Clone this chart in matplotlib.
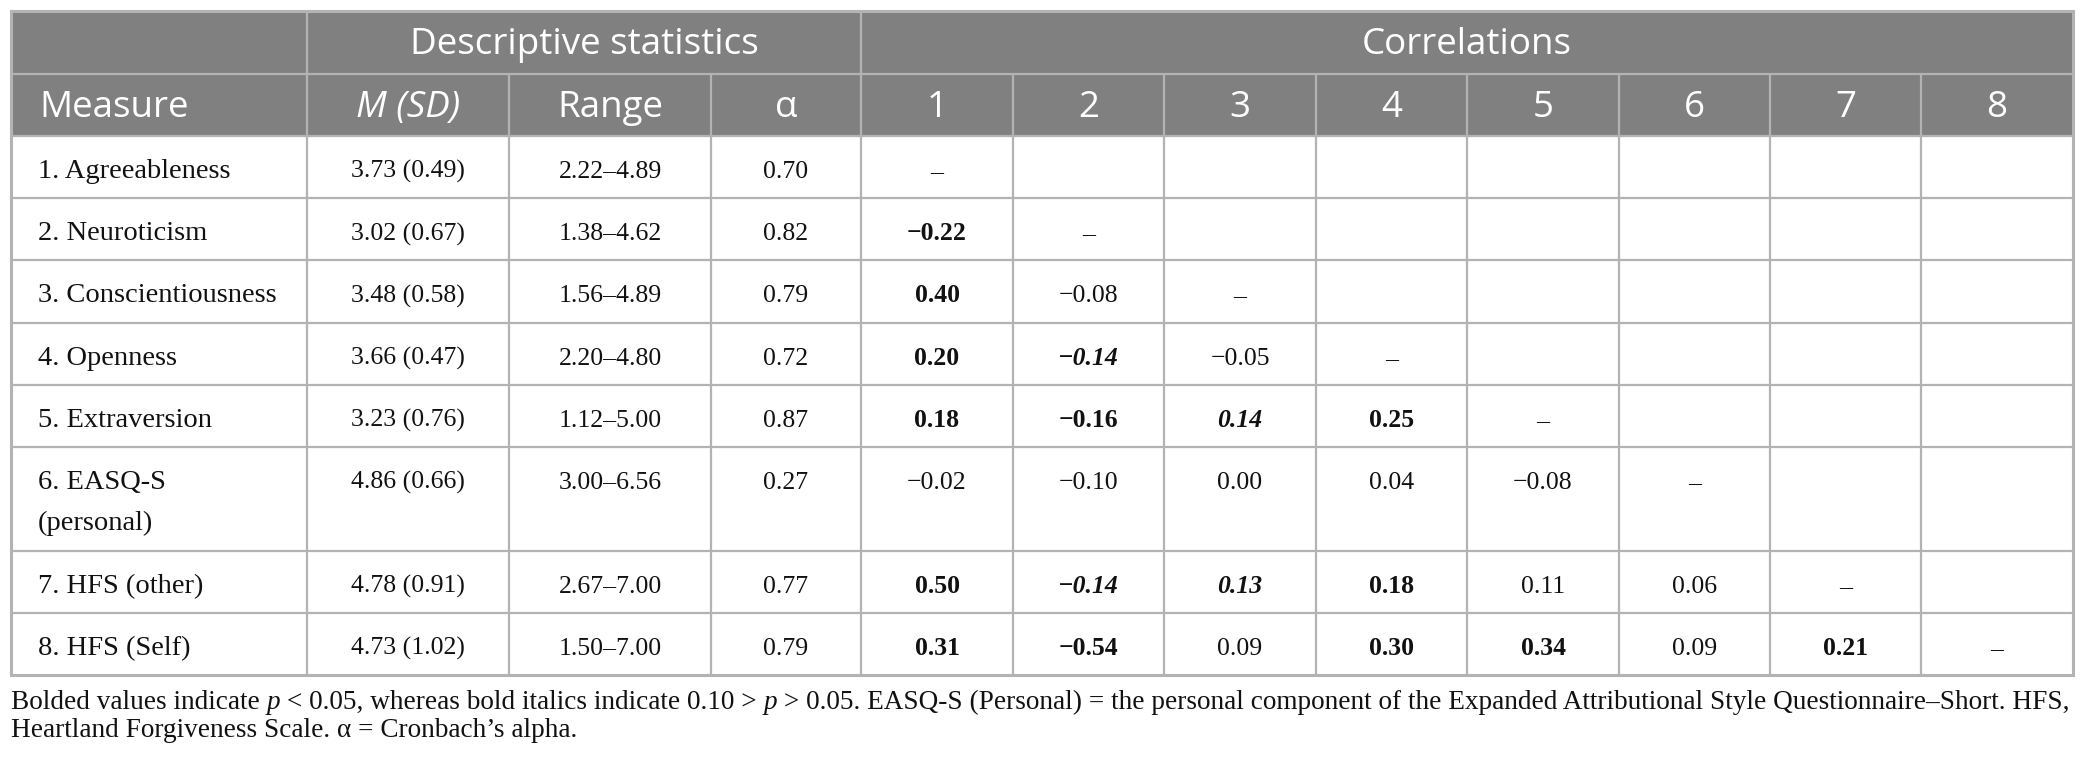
import matplotlib
matplotlib.use("Agg")
import matplotlib.pyplot as plt
from matplotlib.patches import Rectangle

# ---------------- data ----------------
measures = ["1. Agreeableness", "2. Neuroticism", "3. Conscientiousness", "4. Openness",
            "5. Extraversion", "6. EASQ-S\n(personal)", "7. HFS (other)", "8. HFS (Self)"]
means = [3.73, 3.02, 3.48, 3.66, 3.23, 4.86, 4.78, 4.73]
sds = [0.49, 0.67, 0.58, 0.47, 0.76, 0.66, 0.91, 1.02]
range_lo = [2.22, 1.38, 1.56, 2.20, 1.12, 3.00, 2.67, 1.50]
range_hi = [4.89, 4.62, 4.89, 4.80, 5.00, 6.56, 7.00, 7.00]
alphas = [0.70, 0.82, 0.79, 0.72, 0.87, 0.27, 0.77, 0.79]
# lower-triangular correlations (row i, columns 1..i-1)
corr = [
    [],
    [-0.22],
    [0.40, -0.08],
    [0.20, -0.14, -0.05],
    [0.18, -0.16, 0.14, 0.25],
    [-0.02, -0.10, 0.00, 0.04, -0.08],
    [0.50, -0.14, 0.13, 0.18, 0.11, 0.06],
    [0.31, -0.54, 0.09, 0.30, 0.34, 0.09, 0.21],
]
# significance: 'b' = p < .05 (bold), 'bi' = .10 > p > .05 (bold italic), '' = ns
sig = [
    [],
    ['b'],
    ['b', ''],
    ['b', 'bi', ''],
    ['b', 'b', 'bi', 'b'],
    ['', '', '', '', ''],
    ['b', 'bi', 'bi', 'b', '', ''],
    ['b', 'b', '', 'b', 'b', '', 'b'],
]
group_headers = ["Descriptive statistics", "Correlations"]
col_headers = ["Measure", "M (SD)", "Range", "\u03b1", "1", "2", "3", "4", "5", "6", "7", "8"]
footnote_l1 = [("Bolded values indicate ", "normal"), ("p", "italic"),
               (" < 0.05, whereas bold italics indicate 0.10 > ", "normal"), ("p", "italic"),
               (" > 0.05. EASQ-S (Personal) = the personal component of the Expanded "
                "Attributional Style Questionnaire\u2013Short. HFS,", "normal")]
footnote_l2 = [("Heartland Forgiveness Scale. \u03b1 = Cronbach\u2019s alpha.", "normal")]

# ---------------- layout ----------------
W, H = 2088, 773
fig = plt.figure(figsize=(W / 100, H / 100), dpi=100)
ax = fig.add_axes([0, 0, 1, 1])
ax.set_xlim(0, W)
ax.set_ylim(H, 0)
ax.axis("off")

col_x = [11, 307, 509, 711, 861, 1013, 1164, 1316, 1467, 1619, 1770, 1921, 2073]
top = 11
hdr1_bot = 73.5
hdr2_bot = 136
row_h = [62.2, 62.2, 62.2, 62.2, 62.2, 104, 62, 62]
row_y = [hdr2_bot]
for h in row_h:
    row_y.append(row_y[-1] + h)
bottom = row_y[-1]

HDR_BG = "#808080"
LINE = "#b3b3b3"
TXT = "#111111"
SANS = ["Open Sans", "DejaVu Sans"]
SERIF = ["Liberation Serif", "DejaVu Serif"]
HFS = 26.5   # header
BFS = 18.5   # numbers
MFS = 20.5   # measure names
FFS = 19.6   # footnote

# header background
ax.add_patch(Rectangle((col_x[0], top), col_x[-1] - col_x[0], hdr2_bot - top,
                       facecolor=HDR_BG, edgecolor="none", zorder=1))

# horizontal lines
lw_in = 1.6
for y in [hdr1_bot, hdr2_bot] + row_y[1:-1]:
    ax.plot([col_x[0], col_x[-1]], [y, y], color=LINE, lw=lw_in, zorder=3,
            solid_capstyle="butt")
# vertical lines
for x in col_x[1:-1]:
    y0 = top if x in (col_x[1], col_x[4]) else hdr1_bot
    ax.plot([x, x], [y0, bottom], color=LINE, lw=lw_in, zorder=3, solid_capstyle="butt")
# outer border
ax.add_patch(Rectangle((col_x[0], top), col_x[-1] - col_x[0], bottom - top,
                       facecolor="none", edgecolor=LINE, lw=2.2, zorder=4))

# header texts
ax.text((col_x[1] + col_x[4]) / 2, 54, group_headers[0], color="white", fontsize=HFS,
        family=SANS, ha="center", va="baseline", zorder=5)
ax.text((col_x[4] + col_x[-1]) / 2, 54, group_headers[1], color="white", fontsize=HFS,
        family=SANS, ha="center", va="baseline", zorder=5)
for j, lab in enumerate(col_headers):
    if j == 0:
        ax.text(col_x[0] + 28, 117, lab, color="white", fontsize=HFS, family=SANS,
                ha="left", va="baseline", zorder=5)
    else:
        ax.text((col_x[j] + col_x[j + 1]) / 2, 117, lab, color="white", fontsize=HFS,
                family=SANS, ha="center", va="baseline", zorder=5,
                style="italic" if j == 1 else "normal")


def fmt(v):
    s = f"{abs(v):.2f}"
    return ("\u2212" + s) if v < 0 else s


# body
for i in range(len(measures)):
    base = row_y[i] + 42
    for k, line in enumerate(measures[i].split("\n")):
        ax.text(col_x[0] + 27, base + k * 41, line, fontsize=MFS, family=SERIF, color=TXT,
                ha="left", va="baseline", zorder=5)
    cells = [f"{means[i]:.2f} ({sds[i]:.2f})", f"{range_lo[i]:.2f}\u2013{range_hi[i]:.2f}",
             f"{alphas[i]:.2f}"]
    for j, c in enumerate(cells):
        ax.text((col_x[j + 1] + col_x[j + 2]) / 2, base, c, fontsize=BFS, family=SERIF,
                color=TXT, ha="center", va="baseline", zorder=5)
    for j, v in enumerate(corr[i]):
        s = sig[i][j]
        ax.text((col_x[j + 4] + col_x[j + 5]) / 2, base, fmt(v), fontsize=BFS, family=SERIF,
                color=TXT, ha="center", va="baseline", zorder=5,
                fontweight="bold" if "b" in s else "normal",
                style="italic" if "i" in s else "normal")
    # diagonal dash
    ax.text((col_x[i + 4] + col_x[i + 5]) / 2, base, "\u2013", fontsize=BFS, family=SERIF,
            color=TXT, ha="center", va="baseline", zorder=5)

# footnote (rich text runs)
fig.canvas.draw()
renderer = fig.canvas.get_renderer()


def run_width(text, style, fs):
    t1 = ax.text(0, 0, text + "|", fontsize=fs, family=SERIF, style=style)
    t2 = ax.text(0, 0, "|", fontsize=fs, family=SERIF, style=style)
    w = t1.get_window_extent(renderer).width - t2.get_window_extent(renderer).width
    t1.remove()
    t2.remove()
    return w


for runs, yb in ((footnote_l1, 709), (footnote_l2, 737)):
    x = 11
    for text, style in runs:
        ax.text(x, yb, text, fontsize=FFS, family=SERIF, style=style, color=TXT,
                ha="left", va="baseline", zorder=5)
        x += run_width(text, style, FFS)

fig.savefig("out.png", dpi=100, facecolor="white")
